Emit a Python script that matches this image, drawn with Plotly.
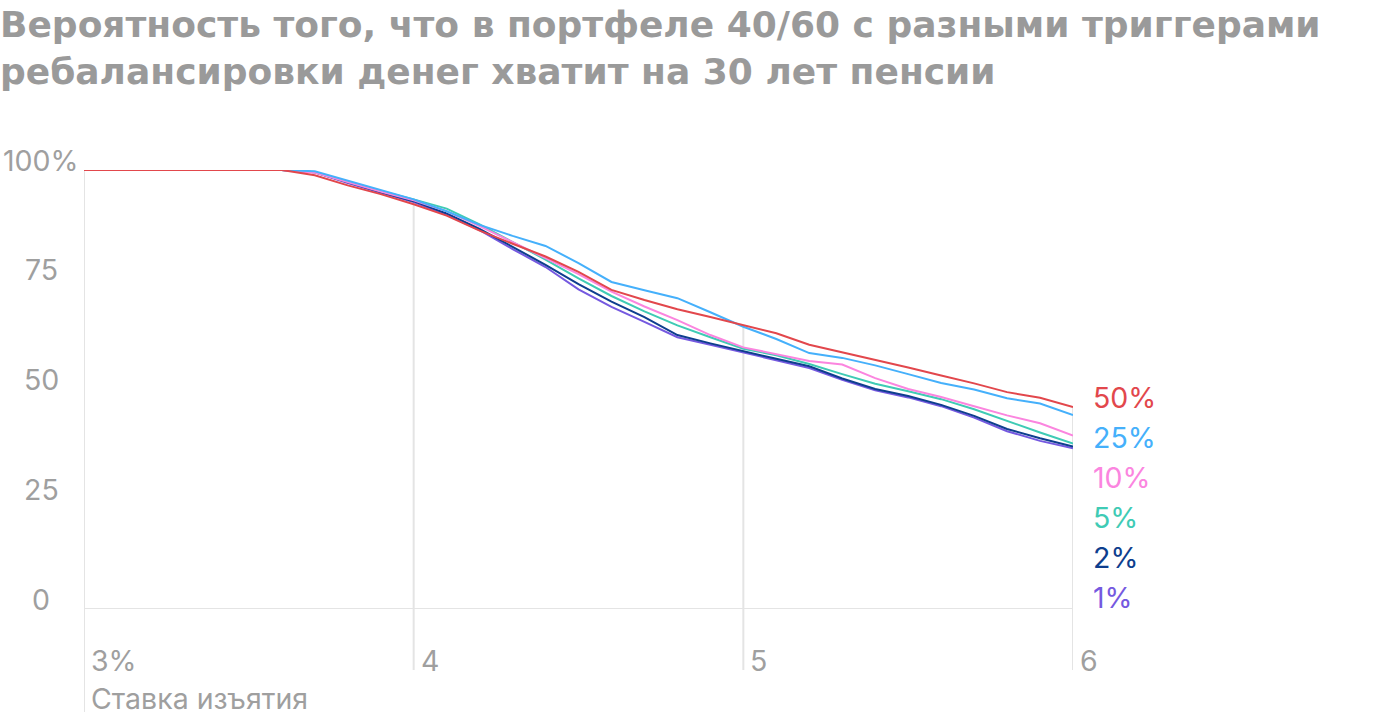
import plotly.graph_objects as go

x_vals = [round(3.0 + 0.1 * i, 1) for i in range(31)]

flat = [100, 100, 100, 100, 100, 100, 100]
s50 = flat + [98.8, 96.5, 94.5, 92.2, 89.6, 86.2, 83.2, 80.3, 76.8, 72.7, 70.4, 68.3, 66.5, 64.6, 62.8, 60.2, 58.5, 56.7, 55.0, 53.2, 51.4, 49.4, 48.1, 46.0]
s25 = flat + [99.7, 97.6, 95.5, 93.3, 90.6, 87.5, 85.0, 82.7, 78.8, 74.5, 72.6, 70.8, 67.6, 64.3, 61.5, 58.3, 57.2, 55.5, 53.5, 51.5, 50.0, 48.0, 46.8, 44.2]
s10 = flat + [99.4, 97.2, 95.1, 93.1, 90.6, 87.2, 83.6, 80.0, 76.3, 72.3, 68.9, 65.8, 62.4, 59.6, 58.1, 56.5, 55.7, 52.6, 50.1, 48.3, 46.2, 44.1, 42.3, 39.5]
s5 = flat + [99.5, 97.3, 95.2, 93.3, 91.2, 87.6, 83.6, 79.6, 75.3, 71.3, 67.8, 64.6, 61.9, 59.3, 57.8, 55.8, 53.5, 51.3, 49.6, 47.8, 45.5, 42.8, 40.2, 37.7]
s2 = flat + [99.5, 97.2, 95.0, 92.9, 90.1, 86.6, 82.5, 78.4, 74.0, 70.0, 66.5, 62.4, 60.5, 58.7, 57.0, 55.3, 52.5, 50.1, 48.5, 46.5, 44.0, 41.0, 38.9, 37.0]
s1 = flat + [99.5, 97.0, 94.8, 92.7, 89.8, 86.3, 82.0, 77.9, 72.8, 68.8, 65.4, 61.9, 60.2, 58.4, 56.7, 54.9, 52.2, 49.8, 48.2, 46.2, 43.6, 40.5, 38.3, 36.6]

series_names = ["50%", "25%", "10%", "5%", "2%", "1%"]
series_values = [s50, s25, s10, s5, s2, s1]
series_colors = ["#e2474c", "#45b0fb", "#fb85df", "#3fcbb5", "#0e3e8e", "#7559e0"]

y_ticks = [0, 25, 50, 75, 100]
y_tick_labels = ["0", "25", "50", "75", "100%"]
x_ticks = [3, 4, 5, 6]
x_tick_labels = ["3%", "4", "5", "6"]

title_text = "Вероятность того, что в портфеле 40/60 с разными триггерами<br>ребалансировки денег хватит на 30 лет пенсии"
x_title = "Ставка изъятия"

# layout geometry (pixels)
L, R, T, B = 84, 1073, 170, 609
W, H = 1400, 720
pw, ph = R - L, B - T

def px_to_paper_y(py):
    return (B - py) / ph

def px_to_paper_x(px):
    return (px - L) / pw

fig = go.Figure()
# draw in reverse so 50% is on top
for name, vals, col in reversed(list(zip(series_names, series_values, series_colors))):
    fig.add_trace(go.Scatter(x=x_vals, y=vals, mode="lines", name=name,
                             line=dict(color=col, width=2), showlegend=False,
                             hoverinfo="skip"))

grid_col = "#e4e4e4"
shapes = []
for xv in x_ticks:
    idx = x_vals.index(float(xv))
    top_val = max(v[idx] for v in series_values)
    y0 = px_to_paper_y(712) if xv == 3 else px_to_paper_y(670)
    shapes.append(dict(type="line", xref="x", yref="paper", x0=xv, x1=xv,
                       y0=y0, y1=top_val / 100.0, line=dict(color=grid_col, width=2), layer="below"))
shapes.append(dict(type="line", xref="x", yref="y", x0=3, x1=6, y0=0, y1=0,
                   line=dict(color=grid_col, width=2), layer="below"))

annotations = []
font_family = "Inter, Roboto, Arial, sans-serif"
tick_size = 28.5
tick_col = "#9f9f9f"
for yv, lab in zip(y_ticks, y_tick_labels):
    annotations.append(dict(xref="paper", yref="y", x=px_to_paper_x(41), y=yv,
                            text=lab, showarrow=False, xanchor="center", yanchor="middle",
                            yshift=10, font=dict(family=font_family, size=tick_size, color=tick_col)))
for xv, lab in zip(x_ticks, x_tick_labels):
    annotations.append(dict(xref="x", yref="paper", x=xv, y=px_to_paper_y(660),
                            text=lab, showarrow=False, xanchor="left", yanchor="middle",
                            xshift=5, font=dict(family=font_family, size=tick_size, color=tick_col)))
annotations.append(dict(xref="x", yref="paper", x=3, y=px_to_paper_y(698),
                        text=x_title, showarrow=False, xanchor="left", yanchor="middle",
                        xshift=5, font=dict(family=font_family, size=tick_size, color=tick_col)))
for i, (name, col) in enumerate(zip(series_names, series_colors)):
    annotations.append(dict(xref="paper", yref="paper", x=px_to_paper_x(1091),
                            y=px_to_paper_y(397 + 40 * i), text=name, showarrow=False,
                            xanchor="left", yanchor="middle",
                            font=dict(family=font_family, size=tick_size, color=col)))
annotations.append(dict(xref="paper", yref="paper", x=px_to_paper_x(-2), y=px_to_paper_y(2),
                        text="<b>" + title_text + "</b>", showarrow=False, align="left",
                        xanchor="left", yanchor="top",
                        font=dict(family="DejaVu Sans, sans-serif", size=36, color="#9a9a9a")))

fig.update_layout(
    width=W, height=H,
    margin=dict(l=L, r=W - R, t=T, b=H - B),
    paper_bgcolor="white", plot_bgcolor="white",
    xaxis=dict(range=[3, 6], showgrid=False, zeroline=False, showticklabels=False,
               showline=False, ticks=""),
    yaxis=dict(range=[0, 100], showgrid=False, zeroline=False, showticklabels=False,
               showline=False, ticks=""),
    shapes=shapes, annotations=annotations,
)

fig.write_html("out.html")
